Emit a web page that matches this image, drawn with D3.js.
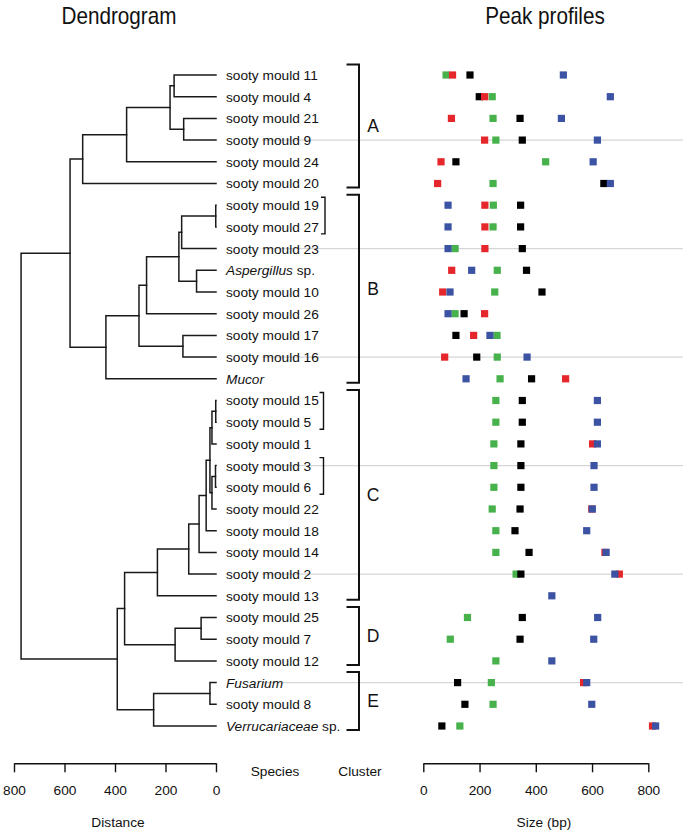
<!DOCTYPE html>
<html>
<head>
<meta charset="utf-8">
<script src="https://cdn.jsdelivr.net/npm/d3@7"></script>
<style>
  html, body { margin: 0; padding: 0; background: #fff; }
  svg { display: block; font-family: "Liberation Sans", Arial, Helvetica, sans-serif; }
</style>
</head>
<body>
<svg id="chart" width="683" height="833"></svg>
<script>
// ---------------- DATA ----------------
const leafNames = [
  "sooty mould 11","sooty mould 4","sooty mould 21","sooty mould 9","sooty mould 24","sooty mould 20",
  "sooty mould 19","sooty mould 27","sooty mould 23","Aspergillus","sooty mould 10","sooty mould 26",
  "sooty mould 17","sooty mould 16","Mucor",
  "sooty mould 15","sooty mould 5","sooty mould 1","sooty mould 3","sooty mould 6","sooty mould 22",
  "sooty mould 18","sooty mould 14","sooty mould 2","sooty mould 13",
  "sooty mould 25","sooty mould 7","sooty mould 12",
  "Fusarium","sooty mould 8","Verrucariaceae"
];
const leafItalic = [0,0,0,0,0,0, 0,0,0,1,0,0,0,0,1, 0,0,0,0,0,0,0,0,0,0, 0,0,0, 1,0,1];
const leafSuffix = ["","","","","","", "","",""," sp.","","","","","", "","","","","","","","","","", "","","", "",""," sp."];

// hclust-style merges: negative = leaf (1-based), positive = earlier merge (1-based); third = distance
const mergeA = [-7, -16, -19, 2, 3, 4, -29, 6, -26, 8, -10, 10, -3, -13, 1, 15, 9, -1, 18, 12, 7, 16, 22, 19, 20, 25, 23, 24, 28, 29];
const mergeB = [-8, -17, -20, -18, -21, 5, -30, -22, -27, -23, -11, -24, -4, -14, -9, 11, -28, -2, 13, -25, -31, -12, 14, -5, 17, 21, -15, -6, 27, 26];
const mergeHeight = [1, 1, 2, 16, 16, 24, 24, 39, 59, 67, 77, 108, 128, 131, 136, 147, 162, 166, 182, 232, 247, 275, 305, 354, 362, 391, 436, 528, 578, 772];

// peak sizes (bp) per leaf, null = no peak
const peakGreen = [81,245,248,258,435,248, 249,248,113,263,254,113,262,263,273, 258,258,251,251,251,245,258,258,330,null, 157,96,258, 242,248,130];
const peakBlack = [166,199,344,352,116,642, 346,346,352,367,422,145,116,190,385, 352,352,347,347,347,344,326,376,347,null, 352,344,null, 122,148,66];
const peakRed   = [104,218,100,218,63,51, 219,219,219,101,69,218,179,76,506, null,null,602,null,null,599,null,646,697,null, null,null,null, 570,null,815];
const peakBlue  = [498,665,491,619,604,665, 88,88,88,172,95,88,237,369,152, 619,619,619,607,607,601,581,650,681,457, 620,606,457, 581,599,826];

const clusterNames = ["A","B","C","D","E"];
const clusterFirst = [0,6,15,25,28];
const clusterLast  = [5,14,24,27,30];
const pairFirst = [6,15,18];
const pairLast  = [7,16,19];
const gridRows = [3,8,13,18,23,28];

const distTicks = [800,600,400,200,0];
const sizeTicks = [0,200,400,600,800];

// ---------------- CHART ----------------
const svg = d3.select("#chart");
svg.append("rect").attr("width",683).attr("height",833).attr("fill","#fff");

const y = d3.scalePoint().domain(d3.range(leafNames.length)).range([75, 726]);
const xDist = d3.scaleLinear().domain([800, 0]).range([14, 216]);
const xSize = d3.scaleLinear().domain([0, 800]).range([423.3, 648.3]);

// grid lines
svg.append("g").selectAll("line").data(gridRows).join("line")
  .attr("x1", 262).attr("x2", 683)
  .attr("y1", d => y(d)).attr("y2", d => y(d))
  .attr("stroke", "#d6d6d6").attr("stroke-width", 1.4);

// dendrogram
const nodeY = [], nodeH = [];
function childY(c){ return c < 0 ? y(-c-1) : nodeY[c-1]; }
function childH(c){ return c < 0 ? 0 : nodeH[c-1]; }
const dg = svg.append("g").attr("fill","none").attr("stroke","#1a1a1a").attr("stroke-width",1.5)
  .attr("stroke-linecap","square");
mergeHeight.forEach((h, i) => {
  const a = mergeA[i], b = mergeB[i];
  const ya = childY(a), yb = childY(b);
  const xh = xDist(h);
  const path = d3.path();
  path.moveTo(xDist(childH(a)), ya);
  path.lineTo(xh, ya);
  path.lineTo(xh, yb);
  path.lineTo(xDist(childH(b)), yb);
  dg.append("path").attr("d", path.toString());
  nodeY[i] = (ya + yb) / 2;
  nodeH[i] = h;
});

// leaf labels
const lab = svg.append("g").attr("font-size", 13.7).attr("fill", "#111");
leafNames.forEach((n, i) => {
  const t = lab.append("text").attr("x", 226).attr("y", y(i)).attr("dy", "0.36em");
  t.append("tspan").attr("font-style", leafItalic[i] ? "italic" : "normal").text(n);
  if (leafSuffix[i]) t.append("tspan").text(leafSuffix[i]);
});

// pair brackets
const pb = svg.append("g").attr("fill","none").attr("stroke","#111").attr("stroke-width",1.4);
pairFirst.forEach((f, i) => {
  const x = i === 0 ? 325 : 323.5;
  const y1 = y(f) - 8, y2 = y(pairLast[i]) + 7;
  pb.append("path").attr("d", `M${x-4},${y1}H${x}V${y2}H${x-4}`);
});

// cluster brackets
const cb = svg.append("g");
clusterNames.forEach((c, i) => {
  const y1 = y(clusterFirst[i]) - 10.5, y2 = y(clusterLast[i]) + 4;
  cb.append("path").attr("d", `M346.5,${y1}H359V${y2}H346.5`)
    .attr("fill","none").attr("stroke","#111").attr("stroke-width",2);
  cb.append("text").attr("x", 373).attr("y", (y1 + y2) / 2).attr("dy","0.36em")
    .attr("text-anchor","middle").attr("font-size", 17.5).attr("fill","#111").text(c);
});

// peaks
const sq = 7.2;
const series = [[peakGreen,"#47b24b"],[peakBlack,"#000000"],[peakRed,"#e5262a"],[peakBlue,"#3c53a3"]];
const pg = svg.append("g");
series.forEach(([vals, col]) => {
  pg.append("g").selectAll("rect")
    .data(vals.map((v, i) => ({v, i})).filter(d => d.v != null))
    .join("rect")
    .attr("x", d => xSize(d.v) - sq/2).attr("y", d => y(d.i) - sq/2)
    .attr("width", sq).attr("height", sq).attr("fill", col);
});

// axes
function styleAxis(g){
  g.select(".domain").attr("stroke","#111").attr("stroke-width",1.4);
  g.selectAll(".tick line").attr("stroke","#111").attr("stroke-width",1.4);
  g.selectAll(".tick text").attr("font-size",13.7).attr("fill","#111")
    .attr("font-family","'Liberation Sans', Arial, sans-serif");
}
svg.append("g").attr("transform","translate(0,763.3)")
  .call(d3.axisBottom(xDist).tickValues(distTicks).tickSize(9).tickSizeOuter(0).tickPadding(13))
  .call(styleAxis);
svg.append("g").attr("transform","translate(0,763.3)")
  .call(d3.axisBottom(xSize).tickValues(sizeTicks).tickSize(9).tickSizeOuter(0).tickPadding(13))
  .call(styleAxis);

// titles / axis labels
const txt = (x, yy, s, size) => svg.append("text").attr("x", x).attr("y", yy)
  .attr("text-anchor","middle").attr("font-size", size).attr("fill","#111").text(s);
const title = (x, s) => svg.append("text").attr("transform", `translate(${x},24) scale(0.9,1)`)
  .attr("text-anchor","middle").attr("font-size", 23).attr("fill","#111").text(s);
title(119, "Dendrogram");
title(545, "Peak profiles");
txt(118, 827, "Distance", 13.7);
txt(544, 827, "Size (bp)", 13.7);
txt(275, 776, "Species", 13.7);
txt(360, 776, "Cluster", 13.7);
</script>
</body>
</html>
